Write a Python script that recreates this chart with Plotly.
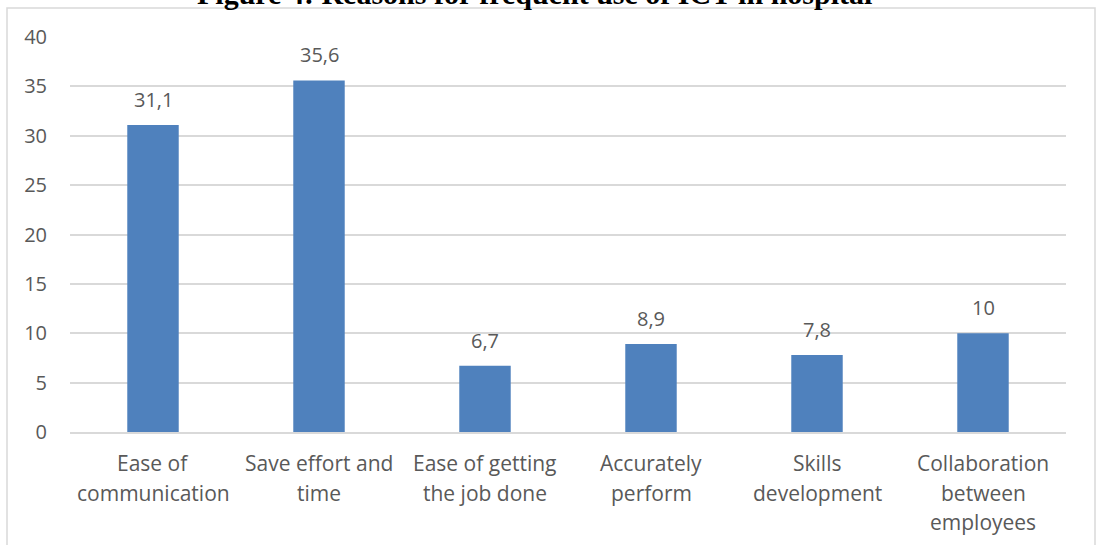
import plotly.graph_objects as go

# Reasons for frequent ICT use (percent of respondents)
categories = [
    "Ease of<br>communication",
    "Save effort and<br>time",
    "Ease of getting<br>the job done",
    "Accurately<br>perform",
    "Skills<br>development",
    "Collaboration<br>between<br>employees",
]
percentages = [31.1, 35.6, 6.7, 8.9, 7.8, 10]
y_ticks = [0, 5, 10, 15, 20, 25, 30, 35, 40]
title_text = "Figure 4: Reasons for frequent use of ICT in hospital"

BAR_COLOR = "#4F81BD"
TEXT_COLOR = "#595959"
GRID_COLOR = "#D9D9D9"
FONT = "Open Sans"

# plot area in pixels
PLOT_L, PLOT_R, PLOT_T, PLOT_B = 70, 1066, 37, 432
PLOT_W, PLOT_H = PLOT_R - PLOT_L, PLOT_B - PLOT_T


def fmt(v):
    return f"{v:g}".replace(".", ",")


fig = go.Figure(
    go.Bar(
        x=categories,
        y=percentages,
        marker=dict(color=BAR_COLOR, line=dict(width=0)),
        hoverinfo="skip",
    )
)

# Value labels above each bar, comma as decimal separator
for cat, val in zip(categories, percentages):
    fig.add_annotation(
        x=cat, y=val, xref="x", yref="y",
        text=fmt(val), showarrow=False,
        yanchor="bottom", yshift=10,
        font=dict(family=FONT, size=20, color=TEXT_COLOR),
    )

# Category labels, one annotation per line for wider line spacing
for cat in categories:
    for i, line in enumerate(cat.split("<br>")):
        fig.add_annotation(
            x=cat, y=0, xref="x", yref="y",
            text=line, showarrow=False,
            yanchor="middle", yshift=-(31 + 29.5 * i),
            font=dict(family=FONT, size=21, color=TEXT_COLOR),
        )

# Figure caption above the chart frame
fig.add_annotation(
    x=(534 - PLOT_L) / PLOT_W, y=1, xref="paper", yref="paper",
    text=f"<b>{title_text}</b>", showarrow=False,
    yanchor="middle", yshift=44,
    font=dict(family="Liberation Serif", size=30, color="#000000"),
)

# Light frame around the chart area
fig.add_shape(
    type="rect", xref="paper", yref="paper",
    x0=(7 - PLOT_L) / PLOT_W, x1=(1095 - PLOT_L) / PLOT_W,
    y0=-0.35, y1=(PLOT_B - 8) / PLOT_H,
    line=dict(color=GRID_COLOR, width=1.5),
    fillcolor="rgba(0,0,0,0)", layer="below",
)

fig.update_layout(
    width=1098, height=545,
    margin=dict(l=PLOT_L, r=1098 - PLOT_R, t=PLOT_T, b=545 - PLOT_B),
    paper_bgcolor="white", plot_bgcolor="white",
    bargap=0.69,
    showlegend=False,
    font=dict(family=FONT, size=20, color=TEXT_COLOR),
)
fig.update_xaxes(
    showgrid=False, showline=True, linecolor=GRID_COLOR, linewidth=1.5,
    ticks="", showticklabels=False,
    fixedrange=True,
)
fig.update_yaxes(
    range=[0, 40], tickvals=y_ticks, showgrid=True, gridcolor=GRID_COLOR,
    gridwidth=1.5, zeroline=False, showline=False, ticks="",
    ticklabelstandoff=22,
    tickfont=dict(family=FONT, size=20, color=TEXT_COLOR),
    fixedrange=True,
)

fig.write_html("out.html")
